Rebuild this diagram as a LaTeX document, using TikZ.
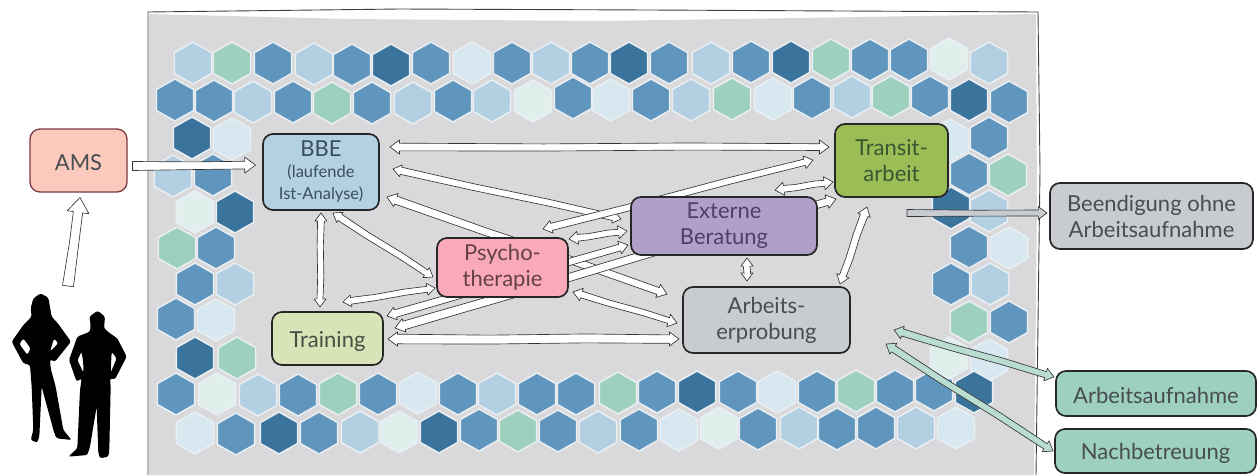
\documentclass[tikz,border=0pt]{standalone}
\usepackage{fontspec}
\setmainfont{Lato}
\usetikzlibrary{calc}
\pgfdeclarelayer{fg}
\pgfsetlayers{main,fg}
\definecolor{hm}{HTML}{6096BD}
\definecolor{hd}{HTML}{3A739C}
\definecolor{hl}{HTML}{B2D0E2}
\definecolor{hp}{HTML}{D8E8F1}
\definecolor{hq}{HTML}{E0EEEC}
\definecolor{hg}{HTML}{9DD0BD}
\definecolor{hedge}{HTML}{E9EFF3}
\definecolor{bggrey}{HTML}{D9D9DB}
\definecolor{cams}{HTML}{FCCABC}
\definecolor{camsb}{HTML}{7A3A40}
\definecolor{cbbe}{HTML}{B4D1E3}
\definecolor{tbbe}{HTML}{3A4D60}
\definecolor{ctra}{HTML}{9BBD56}
\definecolor{ttra}{HTML}{3A5530}
\definecolor{cext}{HTML}{B09FC9}
\definecolor{text}{HTML}{4D3E6B}
\definecolor{cpsy}{HTML}{F9A9B7}
\definecolor{tpsy}{HTML}{644048}
\definecolor{ctrn}{HTML}{D8E3B7}
\definecolor{ttrn}{HTML}{474F42}
\definecolor{cgry}{HTML}{C8CCD0}
\definecolor{cteal}{HTML}{9DD0BD}
\definecolor{cmint}{HTML}{B9DDD0}
\definecolor{tdef}{HTML}{474D52}
\tikzset{
  hexa/.style={draw=hedge,line width=1.5pt,line join=round},
  boxn/.style={draw=black!85,line width=1.7pt,rounded corners=10pt,inner sep=0pt,align=center,
    font=\fontsize{22}{26}\selectfont,text=tdef,
    execute at begin node={\rule{0pt}{21pt}}},
  conn/.style={draw=black!80,fill=white,line width=0.65pt,line join=round},
}
\newcommand{\smalltxt}{\fontsize{16.5}{20}\selectfont}
% one hexagon: x, y, colour
\newcommand{\hx}[3]{\fill[#3,hexa] (#1,#2) ++(0,-21) -- ++(18.6,10.5) -- ++(0,21) -- ++(-18.6,10.5) -- ++(-18.6,-10.5) -- ++(0,-21) -- cycle;}
% two-headed connector: style, from, to, half width, head half width
\newcommand{\conn}[5][]{%
  \coordinate (hA) at #2; \coordinate (hB) at #3;
  \pgfmathsetmacro{\hl}{1.35*#5}
  \pgfmathsetmacro{\hw}{1.2*#4}
  \coordinate (hC) at ($(hA)!\hl pt!(hB)$); \coordinate (hD) at ($(hB)!\hl pt!(hA)$);
  \coordinate (hM) at ($(hA)!.35!(hB)$); \coordinate (hN) at ($(hA)!.68!(hB)$);
  \draw[conn,#1] (hA) -- ($(hC)!#5pt!90:(hB)$) -- ($(hC)!\hw pt!90:(hB)$)
    -- ($(hM)!.8*\hw pt!90:(hB)$) -- ($(hN)!1.05*\hw pt!90:(hB)$) -- ($(hD)!.85*\hw pt!90:(hB)$)
    -- ($(hD)!#5pt!90:(hB)$) -- (hB) -- ($(hD)!#5pt!-90:(hB)$) -- ($(hD)!.9*\hw pt!-90:(hB)$)
    -- ($(hN)!.8*\hw pt!-90:(hB)$) -- ($(hM)!1.05*\hw pt!-90:(hB)$) -- ($(hC)!\hw pt!-90:(hB)$)
    -- ($(hC)!#5pt!-90:(hB)$) -- cycle;}
% one-headed connector
\newcommand{\connone}[5][]{%
  \coordinate (hA) at #2; \coordinate (hB) at #3;
  \pgfmathsetmacro{\hl}{1.35*#5}
  \coordinate (hD) at ($(hB)!\hl pt!(hA)$);
  \coordinate (hM) at ($(hA)!.5!(hB)$);
  \draw[conn,#1] ($(hA)!#4pt!90:(hB)$) -- ($(hM)!.8*#4pt!90:(hB)$) -- ($(hD)!.85*#4pt!90:(hB)$)
    -- ($(hD)!#5pt!90:(hB)$) -- (hB) -- ($(hD)!#5pt!-90:(hB)$) -- ($(hD)!.85*#4pt!-90:(hB)$)
    -- ($(hM)!.9*#4pt!-90:(hB)$) -- ($(hA)!#4pt!-90:(hB)$) -- cycle;}
\begin{document}
\begin{tikzpicture}[x=1pt,y=-1pt]
\useasboundingbox (0,0) rectangle (1257,475);
% frame
\fill[bggrey] (149,14) -- (350,19) -- (600,21) -- (800,18) -- (1036,14) -- (1037,200) -- (1034,475) -- (149,475) -- cycle;
\draw[black!75,line width=0.9pt] (148,475) -- (148,12) -- (400,9) -- (650,10) -- (1038,12) -- (1040,170) -- (1036,475);
% hexagons
\hx{193}{63}{hl}\hx{232}{63}{hg}\hx{273}{63}{hm}\hx{314}{64}{hl}\hx{352}{65}{hm}\hx{391}{65}{hd}\hx{431}{63}{hm}\hx{472}{63}{hp}\hx{512}{63}{hm}\hx{551}{63}{hl}\hx{590}{63}{hm}\hx{629}{63}{hd}\hx{669}{63}{hm}\hx{711}{63}{hl}\hx{751}{62}{hm}\hx{791}{62}{hd}\hx{831}{60}{hg}\hx{870}{60}{hm}\hx{909}{60}{hm}\hx{949}{59}{hq}\hx{989}{63}{hl}
\hx{175}{100}{hm}\hx{214}{101}{hm}\hx{253}{102}{hl}\hx{293}{102}{hm}\hx{332}{103}{hg}\hx{372}{103}{hm}\hx{413}{103}{hl}\hx{453}{101}{hm}\hx{492}{101}{hl}\hx{533}{101}{hq}\hx{573}{98}{hm}\hx{611}{100}{hp}\hx{651}{100}{hm}\hx{691}{100}{hl}\hx{732}{99}{hg}\hx{773}{99}{hp}\hx{812}{98}{hm}\hx{852}{97}{hl}\hx{891}{97}{hg}\hx{930}{97}{hm}\hx{969}{100}{hd}\hx{1009}{102}{hm}
\hx{192}{138}{hd}\hx{232}{139}{hp}\hx{173}{176}{hl}\hx{213}{175}{hm}\hx{195}{212}{hq}\hx{235}{212}{hd}\hx{177}{248}{hg}\hx{216}{248}{hm}\hx{195}{284}{hm}\hx{235}{284}{hl}\hx{176}{319}{hm}\hx{216}{320}{hp}\hx{195}{358}{hd}\hx{237}{358}{hg}
\hx{176}{394}{hm}\hx{217}{394}{hq}\hx{258}{395}{hl}\hx{298}{395}{hm}\hx{338}{394}{hg}\hx{378}{394}{hm}\hx{418}{393}{hp}\hx{458}{394}{hm}\hx{497}{394}{hl}\hx{537}{394}{hm}\hx{576}{394}{hm}\hx{618}{393}{hg}\hx{657}{392}{hm}\hx{697}{392}{hd}\hx{738}{392}{hm}\hx{777}{392}{hp}\hx{817}{392}{hm}\hx{856}{391}{hg}\hx{895}{391}{hm}\hx{934}{390}{hm}
\hx{950}{140}{hp}\hx{989}{138}{hm}\hx{969}{174}{hm}\hx{1008}{175}{hg}\hx{951}{208}{hd}\hx{989}{211}{hl}\hx{969}{247}{hm}\hx{1009}{248}{hp}\hx{951}{284}{hm}\hx{990}{284}{hl}\hx{969}{322}{hg}\hx{1009}{322}{hm}\hx{949}{358}{hq}\hx{989}{360}{hp}\hx{974}{392}{hd}
\hx{195}{433}{hp}\hx{236}{434}{hm}\hx{279}{433}{hd}\hx{319}{433}{hm}\hx{360}{432}{hl}\hx{399}{432}{hq}\hx{439}{432}{hd}\hx{479}{430}{hm}\hx{518}{431}{hg}\hx{558}{431}{hm}\hx{598}{432}{hl}\hx{639}{430}{hm}\hx{679}{430}{hp}\hx{719}{428}{hq}\hx{758}{429}{hm}\hx{799}{428}{hl}\hx{837}{429}{hm}\hx{876}{428}{hm}\hx{916}{428}{hl}\hx{956}{428}{hp}
% nodes, above the connectors
\begin{pgfonlayer}{fg}
\node[boxn,minimum width=97,minimum height=63,fill=cams,draw=camsb,line width=1.3pt] (ams) at (78.5,160.5) {AMS};
\node[boxn,minimum width=116,minimum height=76,fill=cbbe,text=tbbe] (bbe) at (321,172) {BBE\\[-5pt]\smalltxt (laufende\\[-4pt]\smalltxt Ist-Analyse)};
\node[boxn,minimum width=113,minimum height=73,fill=ctra,text=ttra] (transit) at (891.5,160.5) {Transit-\\arbeit};
\node[boxn,minimum width=186,minimum height=58,fill=cext,text=text] (ext) at (724,226) {Externe\\Beratung};
\node[boxn,minimum width=131,minimum height=59,fill=cpsy,text=tpsy] (psy) at (502.5,267.5) {Psycho-\\therapie};
\node[boxn,minimum width=111,minimum height=53,fill=ctrn,text=ttrn] (train) at (327.5,338.5) {Training};
\node[boxn,minimum width=167,minimum height=66,fill=cgry] (arb) at (766.5,320) {Arbeits-\\erprobung};
\node[boxn,minimum width=203,minimum height=66,fill=cgry] (been) at (1151.5,216) {Beendigung ohne\\Arbeitsaufnahme};
\node[boxn,minimum width=200,minimum height=45,fill=cteal] (aufn) at (1156,393.5) {Arbeitsaufnahme};
\node[boxn,minimum width=201,minimum height=44,fill=cteal] (nach) at (1155.5,451) {Nachbetreuung};
\end{pgfonlayer}
% connectors
\coordinate (people) at (68,286);
\connone{(people)}{($(ams)+(1.5,37)$)}{5.5}{11}
\connone{($(ams)+(54,5.5)$)}{($(bbe)+(-65.5,-7)$)}{4.5}{8}
\conn{($(bbe)+(69,-25)$)}{($(transit)+(-62.5,-13.5)$)}{3.2}{7}
\conn{($(bbe)+(72,-3)$)}{($(ext)+(-103,-7)$)}{3}{6}
\conn{($(bbe)+(66,25)$)}{($(arb)+(-99.5,-26)$)}{3.4}{7}
\conn{($(bbe)+(12,41)$)}{($(psy)+(-69.5,9.5)$)}{3}{6}
\conn{($(bbe)+(0,41)$)}{($(train)+(-7.5,-31.5)$)}{2.8}{6}
\conn{($(train)+(15.5,-36.5)$)}{($(psy)+(-67.5,20.5)$)}{2.8}{6}
\conn{($(train)+(59.5,-22.5)$)}{($(ext)+(-96,19)$)}{3.2}{6.5}
\conn{($(train)+(67.5,-10.5)$)}{($(transit)+(-55.5,38.5)$)}{3.6}{7}
\conn{($(psy)+(40.5,-38.5)$)}{($(transit)+(-78.5,-0.5)$)}{3}{6.5}
\conn{($(psy)+(66.5,-28.5)$)}{($(ext)+(-97,5)$)}{2.8}{6.5}
\conn{($(psy)+(70.5,24.5)$)}{($(arb)+(-89.5,3)$)}{2.8}{6.5}
\conn{($(train)+(60.5,0.5)$)}{($(arb)+(-87.5,19)$)}{4}{7}
\conn{($(ext)+(51,-36)$)}{($(transit)+(-58.5,21.5)$)}{2.8}{6.5}
\conn{($(ext)+(23,32)$)}{($(arb)+(-19.5,-39)$)}{3}{6}
\conn{($(transit)+(-24.5,46.5)$)}{($(arb)+(73.5,-36)$)}{3.2}{6.5}
\connone[fill=cgry]{($(transit)+(15.5,52.5)$)}{($(been)+(-104.5,-3)$)}{3.5}{6.5}
\conn[fill=cmint]{($(arb)+(127.5,10)$)}{($(aufn)+(-102,-16.5)$)}{3}{6.5}
\conn[fill=cmint]{($(arb)+(119.5,24)$)}{($(nach)+(-102.5,0)$)}{3}{6.5}
% people
\begin{scope}[x=1pt/3,y=-1pt/3,shift={(0,360)}]
\fill[black,even odd rule,rounded corners=2.2pt]
 (122,520) -- (145,533) -- (155,590) -- (175,612) -- (213,665) -- (165,725) -- (150,718) -- (152,745) -- (167,800) -- (190,930) -- (215,960) -- (170,955) -- (163,940) -- (125,800) -- (118,950) -- (112,968) -- (92,960) -- (100,930) -- (95,800) -- (90,735) -- (70,730) -- (35,665) -- (70,615) -- (95,590) -- (92,565) -- (100,535) -- cycle
 (70,655) -- (58,672) -- (82,705) -- (92,685) -- cycle
 (162,655) -- (150,695) -- (175,670) -- cycle;
\fill[black,even odd rule,rounded corners=2.2pt]
 (293,572) -- (315,590) -- (312,625) -- (330,640) -- (352,655) -- (380,710) -- (345,778) -- (330,775) -- (332,800) -- (328,990) -- (325,1010) -- (300,1015) -- (295,1000) -- (290,860) -- (270,980) -- (262,1005) -- (205,1010) -- (232,985) -- (240,810) -- (245,775) -- (230,785) -- (207,720) -- (232,650) -- (270,635) -- (272,615) -- (268,590) -- cycle
 (245,695) -- (232,720) -- (250,758) -- (250,730) -- cycle
 (335,695) -- (332,758) -- (350,715) -- cycle;
\end{scope}
\end{tikzpicture}
\end{document}
